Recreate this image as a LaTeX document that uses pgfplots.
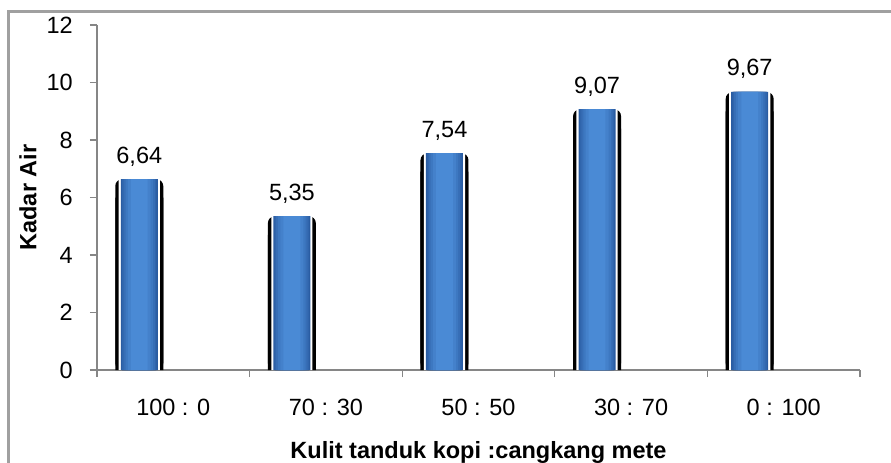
\documentclass[border=0pt]{standalone}
\usepackage{pgfplots}
\pgfplotsset{compat=1.18}
\usepackage{fontspec}
\setmainfont{Liberation Sans}
\definecolor{axgray}{HTML}{868686}
\definecolor{framegray}{HTML}{A0A0A0}
\definecolor{bEdge}{HTML}{2A5CA2}
\definecolor{bMid}{HTML}{4A8AD5}
\pgfplotstableread{
x y
0 6.64
1 5.35
2 7.54
3 9.07
4 9.67
}\bardata
\pgfplotstableread{
x y
0 6.0
1 4.7
2 6.9
3 8.4
4 9.0
}\basedata
\begin{document}
\begin{tikzpicture}[font=\fontsize{23.5bp}{28bp}\selectfont]
\useasboundingbox (0,0) rectangle (891bp,-463bp);
\clip (0,0) rectangle (891bp,-463bp);
\draw[framegray, line width=2.5bp] (8.5bp,-500bp) -- (8.5bp,-11.5bp) -- (950bp,-11.5bp);
\begin{axis}[
  at={(97bp,-370bp)}, anchor=south west,
  width=763bp, height=345bp, scale only axis,
  xmin=-0.5, xmax=4.5, ymin=0, ymax=12,
  ytick={0,2,...,12},
  xtick={-0.5,0.5,...,4.5}, xticklabels={},
  extra x ticks={0,1,2,3,4},
  extra x tick labels={100 : 0,70 : 30,50 : 50,30 : 70,0 : 100},
  extra x tick style={major tick length=0pt, grid=none},
  axis x line*=bottom, axis y line*=left,
  axis line style={axgray, line width=1.3bp},
  tick style={axgray, line width=1.3bp},
  major tick length=7bp, tick align=outside,
  /pgf/number format/assume math mode=true,
  yticklabel style={anchor=east, inner sep=0pt, xshift=-17bp},
  xticklabel style={anchor=base, inner sep=0pt, yshift=-45bp},
  xlabel={\textbf{Kulit tanduk kopi :cangkang mete}},
  ylabel={\textbf{Kadar Air}},
  every axis x label/.style={at={(axis description cs:0.5,0)}, anchor=base, yshift=-88bp},
  every axis y label/.style={at={(axis description cs:-0.0904,0.5)}, rotate=90, anchor=center},
  clip=false,
  every axis plot/.append style={ybar, bar shift=-0.223, draw=none},
]
\addplot[bar width=0.3146, fill=black, rounded corners=7bp] table {\bardata};
\addplot[bar width=0.3146, fill=black] table {\basedata};
\addplot[bar width=0.27, fill=white] table {\bardata};
\addplot[bar width=0.2425, fill=bEdge] table {\bardata};
\addplot[bar width=0.225, fill=bMid!20!bEdge] table {\bardata};
\addplot[bar width=0.205, fill=bMid!40!bEdge] table {\bardata};
\addplot[bar width=0.18, fill=bMid!60!bEdge] table {\bardata};
\addplot[bar width=0.15, fill=bMid!80!bEdge] table {\bardata};
\addplot[bar width=0.11, fill=bMid,
  nodes near coords={\pgfmathprintnumber[fixed,fixed zerofill,precision=2,use comma,assume math mode=true]{\pgfplotspointmeta}},
  nodes near coords style={anchor=base, inner sep=0pt, yshift=16bp, xshift=-34bp, text=black}] table {\bardata};
\end{axis}
\end{tikzpicture}
\end{document}
